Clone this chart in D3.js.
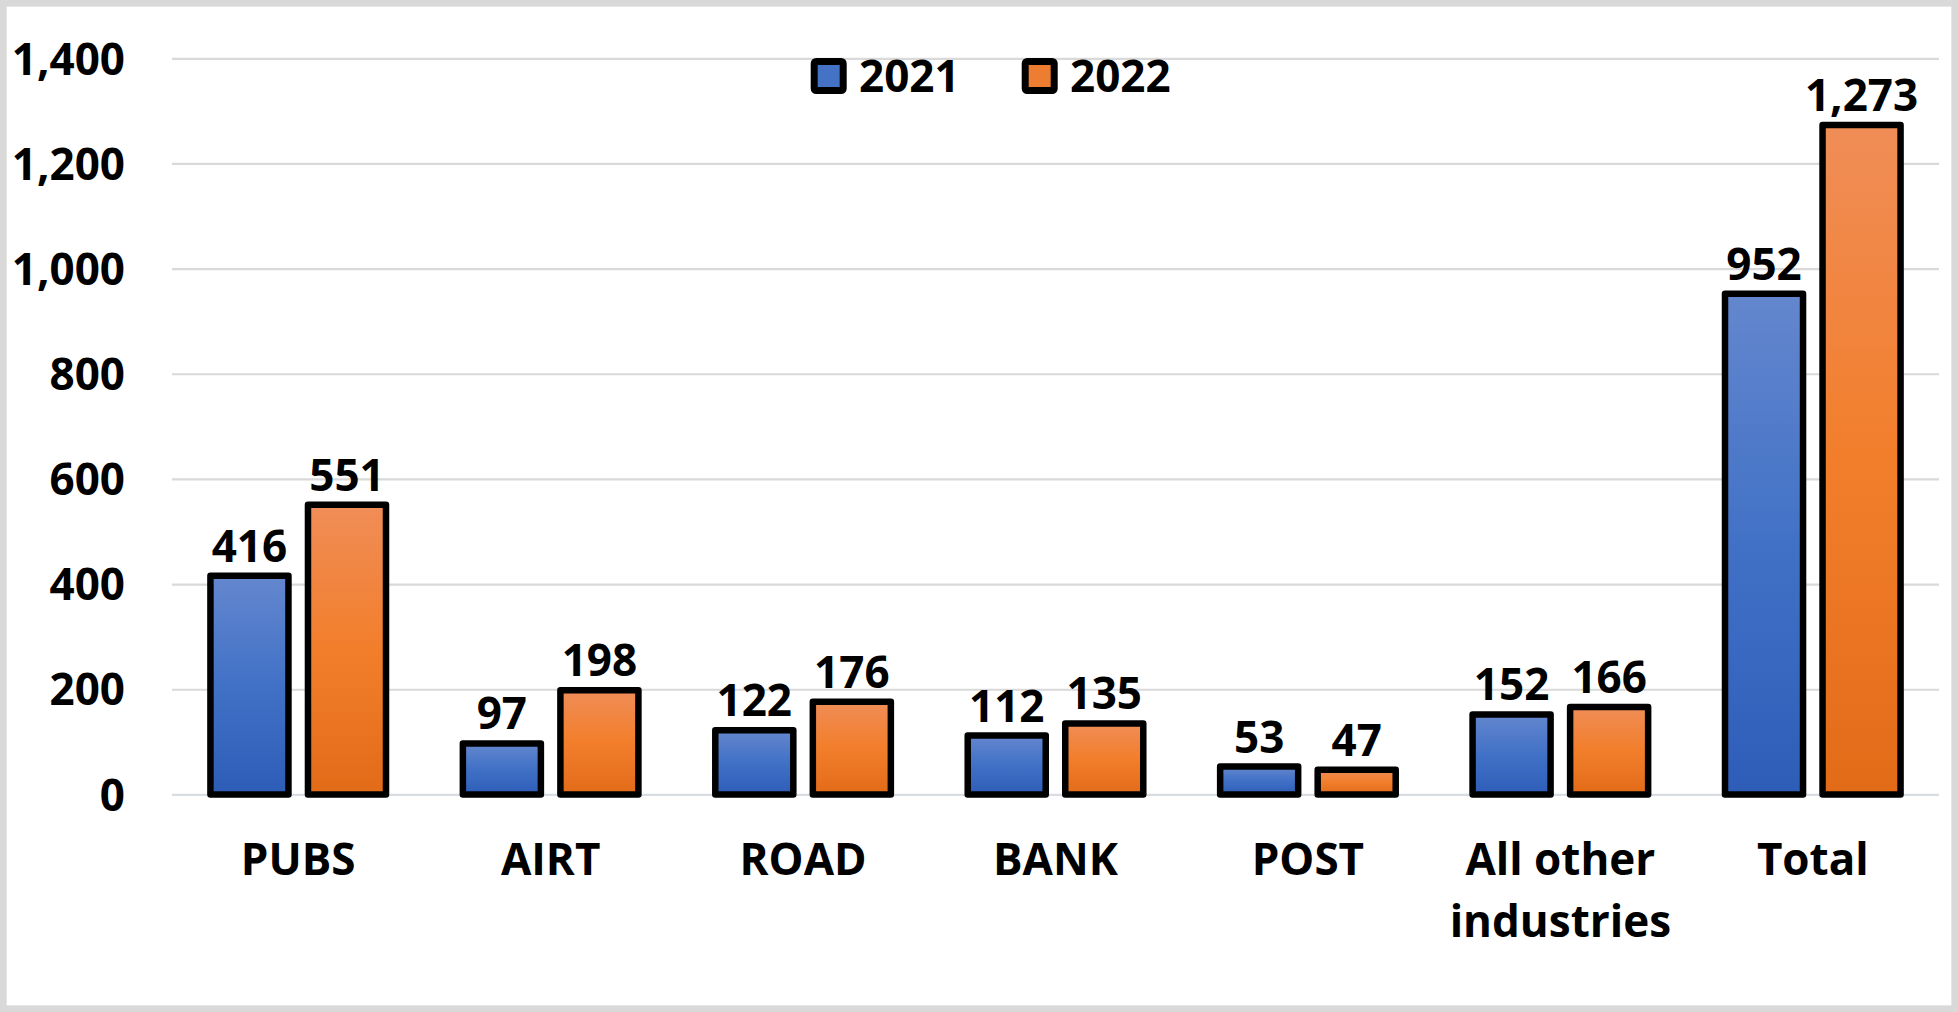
<!DOCTYPE html>
<html>
<head>
<meta charset="utf-8">
<script src="https://cdn.jsdelivr.net/npm/d3@7"></script>
<style>
  html, body { margin: 0; padding: 0; background: #ffffff; }
  svg { display: block; }
  text { font-family: "Open Sans", "DejaVu Sans", sans-serif; font-weight: 700; fill: #000; }
</style>
</head>
<body>
<svg id="chart" width="1958" height="1012"></svg>
<script>
// ---- data ----
const categories = ["PUBS", "AIRT", "ROAD", "BANK", "POST", "All other industries", "Total"];
const seriesNames = ["2021", "2022"];
const values2021 = [416, 97, 122, 112, 53, 152, 952];
const values2022 = [551, 198, 176, 135, 47, 166, 1273];
const yTicks = [0, 200, 400, 600, 800, 1000, 1200, 1400];

const W = 1958, H = 1012;
const svg = d3.select("#chart");
const fontSize = 44;

// frame
svg.append("rect")
  .attr("x", 3.3).attr("y", 3.3)
  .attr("width", W - 6.6).attr("height", H - 6.6)
  .attr("fill", "#ffffff").attr("stroke", "#d9d9d9").attr("stroke-width", 6.7);

// gradients
const defs = svg.append("defs");
const gradStops = {
  "2021": [["0%", "#6487CE"], ["50%", "#4171C6"], ["100%", "#2E5DB8"]],
  "2022": [["0%", "#F08D57"], ["50%", "#F27E2B"], ["100%", "#E26B18"]]
};
seriesNames.forEach(s => {
  const g = defs.append("linearGradient").attr("id", "g" + s)
    .attr("x1", 0).attr("y1", 0).attr("x2", 0).attr("y2", 1);
  gradStops[s].forEach(([o, c]) => g.append("stop").attr("offset", o).attr("stop-color", c));
});
// legend uses a flat-ish fill
const legendFill = { "2021": "#4472C4", "2022": "#ED7D31" };

const plot = { left: 172, right: 1939, top: 58.3, bottom: 794.4 };

const y = d3.scaleLinear().domain([0, 1400]).range([plot.bottom, plot.top]);
const x0 = d3.scaleBand().domain(categories).range([plot.left, plot.right]).paddingInner(0).paddingOuter(0);
const x1 = d3.scaleBand().domain(seriesNames).range([0, x0.bandwidth()]).paddingInner(0.2).paddingOuter(0.394);

// gridlines
const grid = svg.append("g").attr("transform", `translate(${plot.left},0)`)
  .call(d3.axisLeft(y).tickValues(yTicks).tickSize(-(plot.right - plot.left)).tickFormat(""));
grid.select(".domain").remove();
grid.selectAll(".tick line")
  .attr("stroke", d => d === 0 ? "#d8dde4" : "#d9d9d9")
  .attr("stroke-width", 2.2);

// y labels
const yAx = svg.append("g").attr("transform", `translate(125,0)`)
  .call(d3.axisLeft(y).tickValues(yTicks).tickSize(0).tickPadding(0).tickFormat(d3.format(",")));
yAx.select(".domain").remove();
yAx.selectAll(".tick text")
  .attr("x", 0).attr("dy", null).attr("y", 15.7)
  .attr("text-anchor", "end")
  .style("font-size", fontSize + "px");

// bars
const rows = categories.map((c, i) => ({ cat: c, vals: [
  { s: "2021", v: values2021[i] }, { s: "2022", v: values2022[i] } ] }));

const groups = svg.append("g").selectAll("g").data(rows).join("g")
  .attr("transform", d => `translate(${x0(d.cat)},0)`);

groups.selectAll("rect").data(d => d.vals).join("rect")
  .attr("x", d => x1(d.s))
  .attr("width", x1.bandwidth())
  .attr("y", d => y(d.v))
  .attr("height", d => y(0) - y(d.v))
  .attr("fill", d => `url(#g${d.s})`)
  .attr("stroke", "#000")
  .attr("stroke-width", 6.5)
  .attr("stroke-linejoin", "round");

groups.selectAll("text.val").data(d => d.vals).join("text")
  .attr("class", "val")
  .attr("x", d => x1(d.s) + x1.bandwidth() / 2)
  .attr("y", d => y(d.v) - 14)
  .attr("text-anchor", "middle")
  .style("font-size", fontSize + "px")
  .text(d => d3.format(",")(d.v));

// category labels
const xAx = svg.append("g").attr("transform", `translate(0,${plot.bottom})`)
  .call(d3.axisBottom(x0).tickSize(0).tickPadding(0));
xAx.select(".domain").remove();
xAx.selectAll(".tick text").each(function(d) {
  const t = d3.select(this);
  t.text(null).attr("y", 0).attr("dy", null).style("font-size", fontSize + "px");
  const lines = d === "All other industries" ? ["All other", "industries"] : [d];
  lines.forEach((ln, i) => {
    t.append("tspan").attr("x", 0).attr("y", 80.6 + i * 62).text(ln);
  });
});

// legend
const legendItems = [
  { s: "2021", x: 810.7 },
  { s: "2022", x: 1021.7 }
];
const lg = svg.append("g");
legendItems.forEach(it => {
  lg.append("rect")
    .attr("x", it.x + 3.5).attr("y", 61.5)
    .attr("width", 29).attr("height", 29)
    .attr("rx", 2)
    .attr("fill", legendFill[it.s])
    .attr("stroke", "#000").attr("stroke-width", 7);
  lg.append("text")
    .attr("x", it.x + 48.3).attr("y", 91.7)
    .style("font-size", fontSize + "px")
    .text(it.s);
});
</script>
</body>
</html>
